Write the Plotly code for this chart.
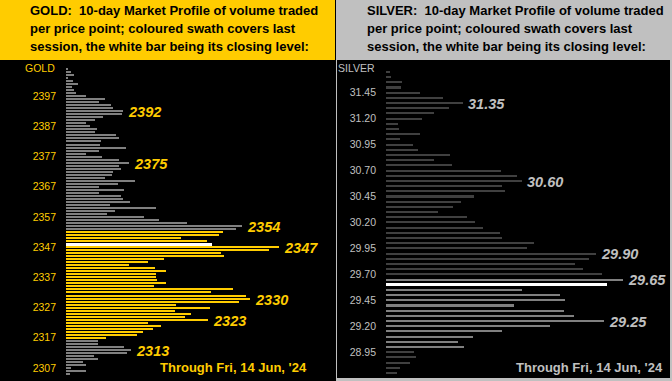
import plotly.graph_objects as go

W, H = 672, 381

# ---------------- DATA ----------------
gold_prices = list(range(2406, 2304, -1))
gold_volume = [
    2, 5, 8, 2, 7, 12, 6, 8, 10, 20,          # 2406-2397
    39, 33, 45, 47, 57, 56, 37, 29, 20, 24,   # 2396-2387
    31, 29, 50, 53, 35, 34, 60, 33, 20, 36,   # 2386-2377
    53, 63, 53, 55, 47, 46, 39, 69, 52, 33,   # 2376-2367
    58, 33, 55, 57, 64, 44, 90, 49, 41, 78,   # 2366-2357
    93, 121, 176, 170, 157, 153, 115, 141, 146, 213,  # 2356-2347
    203, 155, 158, 98, 82, 63, 89, 100, 90, 90,       # 2346-2337
    91, 100, 88, 167, 145, 180, 184, 173, 110, 144,   # 2336-2327
    109, 125, 119, 142, 82, 95, 87, 77, 71, 40,       # 2326-2317
    32, 32, 58, 65, 61, 28, 32, 17, 20, 5,            # 2316-2307
    20, 4,                                             # 2306-2305
]
gold_session_high = 2352
gold_session_low = 2317
gold_close = 2348
gold_peaks = [2392, 2375, 2354, 2347, 2330, 2323, 2313]
gold_ticks = [2307, 2317, 2327, 2337, 2347, 2357, 2367, 2377, 2387, 2397]

silver_prices = [round(31.65 - 0.05 * i, 2) for i in range(59)]
silver_volume = [
    4, 5, 16, 15, 34, 57, 77, 63, 48, 36,        # 31.65-31.20
    12, 13, 34, 14, 27, 32, 64, 48, 66, 115,     # 31.15-30.70
    131, 136, 116, 119, 88, 75, 67, 52, 81, 89,  # 30.65-30.20
    97, 114, 116, 148, 141, 210, 203, 189, 197, 216,  # 30.15-29.70
    237, 221, 136, 174, 179, 128, 178, 188, 218, 164, # 29.65-29.20
    116, 87, 72, 78, 28, 30, 24, 14, 11,              # 29.15-28.75
]
silver_session_high = 29.65
silver_session_low = 29.00
silver_close = 29.60
silver_peaks = [31.35, 30.60, 29.90, 29.65, 29.25]
silver_ticks = [28.95, 29.20, 29.45, 29.70, 29.95, 30.20, 30.45, 30.70, 30.95, 31.20, 31.45]
silver_tick_labels = ["28.95", "29.20", "29.45", "29.70", "29.95", "30.20",
                      "30.45", "30.70", "30.95", "31.20", "31.45"]

gold_title = ["GOLD:  10-day Market Profile of volume traded",
              "per price point; coloured swath covers last",
              "session, the white bar being its closing level:"]
silver_title = ["SILVER:  10-day Market Profile of volume traded",
                "per price point; coloured swath covers last",
                "session, the white bar being its closing level:"]
date_label = "Through Fri, 14 Jun, '24"

# ---------------- STYLE ----------------
GOLD = "#ffcc00"
GOLD_GREY = "#808080"
SILVER_DARK = "#404040"
SILVER_SWATH = "#808080"
SILVER_TEXT = "#c0c0c0"
SANS = "Liberation Sans, Arial, sans-serif"


def px_x(x):
    return x / W


def px_y(y):
    return 1 - y / H


def gold_color(p):
    if p == gold_close:
        return "#ffffff"
    if gold_session_low <= p <= gold_session_high:
        return GOLD
    return GOLD_GREY


def silver_color(p):
    if abs(p - silver_close) < 1e-9:
        return "#ffffff"
    if silver_session_low - 1e-9 <= p <= silver_session_high + 1e-9:
        return SILVER_SWATH
    return SILVER_DARK


fig = go.Figure()

fig.add_trace(go.Bar(
    x=gold_volume, y=gold_prices, orientation="h",
    marker=dict(color=[gold_color(p) for p in gold_prices], line=dict(width=0)),
    width=[0.6 if p == gold_close else 0.34 for p in gold_prices],
    xaxis="x", yaxis="y", hoverinfo="skip", showlegend=False,
))
fig.add_trace(go.Bar(
    x=silver_volume, y=silver_prices, orientation="h",
    marker=dict(color=[silver_color(p) for p in silver_prices], line=dict(width=0)),
    width=[0.022 if abs(p - silver_close) < 1e-9 else 0.015 for p in silver_prices],
    xaxis="x2", yaxis="y2", hoverinfo="skip", showlegend=False,
))

# pixel geometry of the two panels
g_top_px, g_bot_px = 62, 381
g_ref_px, g_ref_p, g_scale = 69.0, 2406, 3.02
s_top_px, s_bot_px = 62, 378
s_ref_px, s_ref_p, s_scale = 71.7, 31.65, 103.79

g_range = [g_ref_p - (g_bot_px - g_ref_px) / g_scale, g_ref_p + (g_ref_px - g_top_px) / g_scale]
s_range = [s_ref_p - (s_bot_px - s_ref_px) / s_scale, s_ref_p + (s_ref_px - s_top_px) / s_scale]

fig.update_layout(
    width=W, height=H, margin=dict(l=0, r=0, t=0, b=0),
    paper_bgcolor="black", plot_bgcolor="rgba(0,0,0,0)",
    bargap=0,
    xaxis=dict(domain=[px_x(66), px_x(334)], range=[0, 268], visible=False, fixedrange=True),
    yaxis=dict(domain=[px_y(g_bot_px), px_y(g_top_px)], range=g_range,
               tickvals=gold_ticks, ticktext=[str(t) for t in gold_ticks],
               tickfont=dict(color=GOLD, size=10.5, family=SANS),
               showgrid=False, zeroline=False, showline=False, ticks="",
               ticklabelstandoff=9, fixedrange=True),
    xaxis2=dict(domain=[px_x(386), px_x(670)], range=[0, 284], visible=False,
                anchor="y2", fixedrange=True),
    yaxis2=dict(domain=[px_y(s_bot_px), px_y(s_top_px)], range=s_range, anchor="x2",
                tickvals=silver_ticks, ticktext=silver_tick_labels,
                tickfont=dict(color=SILVER_TEXT, size=10.5, family=SANS),
                showgrid=False, zeroline=False, showline=False, ticks="",
                ticklabelstandoff=9, fixedrange=True),
)

shapes = [
    # gold header
    dict(type="rect", xref="paper", yref="paper", x0=0, x1=px_x(335),
         y0=px_y(60), y1=1, fillcolor=GOLD, line_width=0, layer="below"),
    # silver frame + header
    dict(type="rect", xref="paper", yref="paper", x0=px_x(336), x1=1,
         y0=0, y1=1, fillcolor="#c0c0c0", line_width=0, layer="below"),
    dict(type="rect", xref="paper", yref="paper", x0=px_x(337), x1=px_x(670),
         y0=px_y(378), y1=px_y(60), fillcolor="black", line_width=0, layer="below"),
]
fig.update_layout(shapes=shapes)

ann = []
title_y = [10.5, 28.5, 46.5]
for i, line in enumerate(gold_title):
    ann.append(dict(xref="paper", yref="paper", x=px_x(28), y=px_y(title_y[i]),
                    xanchor="left", yanchor="middle", showarrow=False, text=line,
                    font=dict(family=SANS, size=13, color="black", weight="bold")))
for i, line in enumerate(silver_title):
    ann.append(dict(xref="paper", yref="paper", x=px_x(365), y=px_y(title_y[i]),
                    xanchor="left", yanchor="middle", showarrow=False, text=line,
                    font=dict(family=SANS, size=13, color="black", weight="bold")))

ann.append(dict(xref="paper", yref="paper", x=px_x(57), y=px_y(67.5), xanchor="right",
                yanchor="middle", showarrow=False, text="GOLD",
                font=dict(family=SANS, size=10.5, color=GOLD)))
ann.append(dict(xref="paper", yref="paper", x=px_x(377), y=px_y(68.5), xanchor="right",
                yanchor="middle", showarrow=False, text="SILVER",
                font=dict(family=SANS, size=10.5, color=SILVER_TEXT)))

for p in gold_peaks:
    v = gold_volume[gold_prices.index(p)]
    ann.append(dict(xref="x", yref="y", x=v, y=p, xanchor="left", yanchor="middle",
                    xshift=3, yshift=-1, showarrow=False, text=str(p),
                    font=dict(family=SANS, size=14.5, color=GOLD, weight="bold", style="italic")))
for p in silver_peaks:
    idx = min(range(len(silver_prices)), key=lambda k: abs(silver_prices[k] - p))
    v = silver_volume[idx]
    ann.append(dict(xref="x2", yref="y2", x=v, y=p, xanchor="left", yanchor="middle",
                    xshift=3, yshift=-1, showarrow=False, text=f"{p:.2f}",
                    font=dict(family=SANS, size=14.5, color=SILVER_TEXT, weight="bold", style="italic")))

ann.append(dict(xref="paper", yref="paper", x=px_x(158), y=px_y(367), xanchor="left",
                yanchor="middle", showarrow=False, text=date_label,
                font=dict(family=SANS, size=13, color=GOLD, weight="bold")))
ann.append(dict(xref="paper", yref="paper", x=px_x(514), y=px_y(367), xanchor="left",
                yanchor="middle", showarrow=False, text=date_label,
                font=dict(family=SANS, size=13, color=SILVER_TEXT, weight="bold")))

fig.update_layout(annotations=ann)

fig.write_html(
    "out.html",
    config={"displayModeBar": False},
    post_script="document.body.style.margin='0';document.body.style.padding='0';",
)
